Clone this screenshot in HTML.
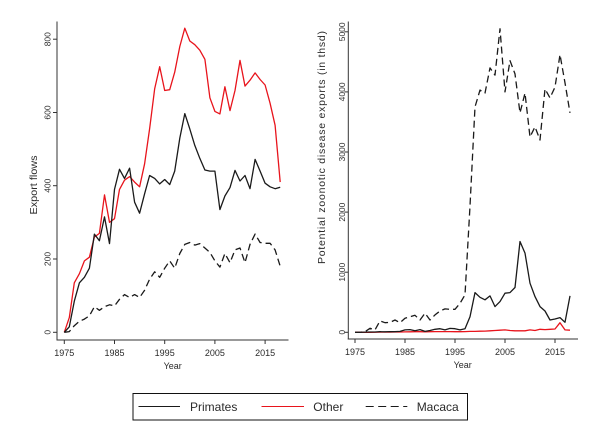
<!DOCTYPE html>
<html>
<head>
<meta charset="utf-8">
<style>
  html, body { margin: 0; padding: 0; background: #ffffff; }
  svg { display: block; }
  text { font-family: "Liberation Sans", Arial, sans-serif; fill: #2a2a2a; }
</style>
</head>
<body>
<svg width="600" height="436" viewBox="0 0 600 436" xmlns="http://www.w3.org/2000/svg">
  <rect x="0" y="0" width="600" height="436" fill="#ffffff"/>

  <!-- ===== LEFT PANEL ===== -->
  <g stroke="#333" stroke-width="1" fill="none">
    <line x1="57" y1="21.5" x2="57" y2="340.5"/>
    <line x1="56.5" y1="340" x2="288.5" y2="340"/>
    <line x1="53" y1="332.3" x2="57" y2="332.3"/>
    <line x1="53" y1="259.0" x2="57" y2="259.0"/>
    <line x1="53" y1="185.7" x2="57" y2="185.7"/>
    <line x1="53" y1="112.5" x2="57" y2="112.5"/>
    <line x1="53" y1="39.2" x2="57" y2="39.2"/>
    <line x1="64.3" y1="340" x2="64.3" y2="344"/>
    <line x1="114.5" y1="340" x2="114.5" y2="344"/>
    <line x1="164.7" y1="340" x2="164.7" y2="344"/>
    <line x1="214.9" y1="340" x2="214.9" y2="344"/>
    <line x1="265.1" y1="340" x2="265.1" y2="344"/>
  </g>
  <g font-size="8.5" text-anchor="middle" style="fill:#333">
    <text x="50.5" y="332.3" transform="rotate(-90 50.5 332.3)">0</text>
    <text x="50.5" y="259.0" transform="rotate(-90 50.5 259.0)">200</text>
    <text x="50.5" y="185.7" transform="rotate(-90 50.5 185.7)">400</text>
    <text x="50.5" y="112.5" transform="rotate(-90 50.5 112.5)">600</text>
    <text x="50.5" y="39.2" transform="rotate(-90 50.5 39.2)">800</text>
  </g>
  <g font-size="9" text-anchor="middle" style="fill:#333">
    <text x="64.3" y="356">1975</text>
    <text x="114.5" y="356">1985</text>
    <text x="164.7" y="356">1995</text>
    <text x="214.9" y="356">2005</text>
    <text x="265.1" y="356">2015</text>
    <text x="172.7" y="369">Year</text>
  </g>
  <text x="37" y="185" font-size="10.5" text-anchor="middle" transform="rotate(-90 37 185)" textLength="59" lengthAdjust="spacingAndGlyphs">Export flows</text>

  <polyline fill="none" stroke="#1a1a1a" stroke-width="1.3" stroke-dasharray="7,4" stroke-linejoin="round"
    points="64.3,332.3 69.3,331.6 74.3,325.7 79.4,321.3 84.4,319.1 89.4,315.8 94.4,306.7 99.4,310.3 104.5,306.7 109.5,304.8 114.5,305.9 119.5,299.3 124.5,294.6 129.6,297.5 134.6,294.6 139.6,297.5 144.6,290.2 149.6,279.2 154.7,271.8 159.7,277.3 164.7,268.2 169.7,260.9 174.7,268.2 179.8,253.5 184.8,244.4 189.8,242.5 194.8,245.1 199.8,243.6 204.9,248.0 209.9,252.4 214.9,260.9 219.9,267.1 224.9,253.5 230.0,262.7 235.0,249.9 240.0,248.0 245.0,262.7 250.0,244.4 255.1,234.1 260.1,242.5 265.1,243.3 270.1,243.3 275.1,249.9 280.2,266.3"/>
  <polyline fill="none" stroke="#e8141c" stroke-width="1.3" stroke-linejoin="round"
    points="64.3,332.3 69.3,317.6 74.3,282.8 79.4,273.7 84.4,260.9 89.4,257.2 94.4,237.0 99.4,233.4 104.5,194.9 109.5,222.4 114.5,218.7 119.5,189.4 124.5,180.2 129.6,176.6 134.6,182.1 139.6,186.8 144.6,163.8 149.6,128.9 154.7,88.6 159.7,66.7 164.7,90.5 169.7,89.7 174.7,72.2 179.8,46.5 184.8,28.2 189.8,41.0 194.8,44.7 199.8,50.2 204.9,59.3 209.9,97.8 214.9,111.4 219.9,113.9 224.9,86.8 230.0,110.6 235.0,90.5 240.0,60.4 245.0,86.1 250.0,80.2 255.1,72.9 260.1,79.5 265.1,85.0 270.1,103.3 275.1,125.3 280.2,182.1"/>
  <polyline fill="none" stroke="#1a1a1a" stroke-width="1.3" stroke-linejoin="round"
    points="64.3,332.3 69.3,326.8 74.3,301.2 79.4,282.8 84.4,277.3 89.4,268.2 94.4,234.1 99.4,240.7 104.5,216.9 109.5,243.6 114.5,189.4 119.5,169.3 124.5,178.4 129.6,168.2 134.6,202.2 139.6,213.2 144.6,193.8 149.6,175.5 154.7,178.4 159.7,183.9 164.7,179.5 169.7,184.6 174.7,171.1 179.8,138.1 184.8,113.6 189.8,128.9 194.8,145.4 199.8,158.3 204.9,170.0 209.9,171.1 214.9,171.1 219.9,209.6 224.9,196.0 230.0,187.6 235.0,170.4 240.0,181.0 245.0,175.5 250.0,188.7 255.1,159.4 260.1,171.1 265.1,183.2 270.1,186.8 275.1,188.7 280.2,187.2"/>

  <!-- ===== RIGHT PANEL ===== -->
  <g stroke="#333" stroke-width="1" fill="none">
    <line x1="348.3" y1="21.5" x2="348.3" y2="339.5"/>
    <line x1="347.8" y1="339" x2="578" y2="339"/>
    <line x1="344.3" y1="332.3" x2="348.3" y2="332.3"/>
    <line x1="344.3" y1="272.2" x2="348.3" y2="272.2"/>
    <line x1="344.3" y1="212.1" x2="348.3" y2="212.1"/>
    <line x1="344.3" y1="152.0" x2="348.3" y2="152.0"/>
    <line x1="344.3" y1="91.9" x2="348.3" y2="91.9"/>
    <line x1="344.3" y1="31.8" x2="348.3" y2="31.8"/>
    <line x1="355" y1="339" x2="355" y2="343"/>
    <line x1="405" y1="339" x2="405" y2="343"/>
    <line x1="455" y1="339" x2="455" y2="343"/>
    <line x1="505" y1="339" x2="505" y2="343"/>
    <line x1="555" y1="339" x2="555" y2="343"/>
  </g>
  <g font-size="8.5" text-anchor="middle" style="fill:#333">
    <text x="345" y="332.3" transform="rotate(-90 345 332.3)">0</text>
    <text x="345" y="272.2" transform="rotate(-90 345 272.2)">1000</text>
    <text x="345" y="212.1" transform="rotate(-90 345 212.1)">2000</text>
    <text x="345" y="152.0" transform="rotate(-90 345 152.0)">3000</text>
    <text x="345" y="91.9" transform="rotate(-90 345 91.9)">4000</text>
    <text x="345" y="31.8" transform="rotate(-90 345 31.8)">5000</text>
  </g>
  <g font-size="9" text-anchor="middle" style="fill:#333">
    <text x="355" y="355">1975</text>
    <text x="405" y="355">1985</text>
    <text x="455" y="355">1995</text>
    <text x="505" y="355">2005</text>
    <text x="555" y="355">2015</text>
    <text x="462.7" y="368">Year</text>
  </g>
  <text x="325" y="147.5" font-size="10.5" text-anchor="middle" transform="rotate(-90 325 147.5)" textLength="233" lengthAdjust="spacing">Potential zoonotic disease exports (in thsd)</text>

  <polyline fill="none" stroke="#1a1a1a" stroke-width="1.3" stroke-dasharray="7,4" stroke-linejoin="round"
    points="355,332.3 360,332.3 365,331.7 370,328.3 375,329.9 380,320.9 385,322.7 390,322.4 395,320.0 400,322.7 405,318.3 410,316.7 415,315.3 420,320.0 425,313.2 430,320.0 435,314.9 440,311.0 445,308.9 450,309.3 455,309.3 460,303.3 465,294.9 470,206.1 475,106.9 480,90.1 485,93.1 490,67.9 495,75.1 500,28.8 505,91.9 510,60.6 515,73.9 520,112.9 525,93.1 530,137.0 535,126.8 540,140.0 545,88.9 550,97.9 555,87.1 560,54.6 565,82.9 570,112.9"/>
  <polyline fill="none" stroke="#e8141c" stroke-width="1.3" stroke-linejoin="round"
    points="355,332.3 360,332.3 365,332.3 370,332.3 375,332.2 380,332.1 385,332.1 390,332.1 395,332.0 400,332.0 405,331.9 410,331.8 415,331.7 420,331.7 425,331.8 430,331.7 435,331.6 440,331.6 445,331.6 450,331.6 455,331.7 460,331.7 465,331.6 470,331.4 475,331.4 480,331.2 485,331.1 490,330.8 495,330.5 500,330.2 505,329.9 510,330.5 515,330.8 520,330.8 525,330.8 530,329.9 535,330.5 540,329.3 545,329.6 550,329.3 555,329.0 560,322.7 565,329.9 570,330.2"/>
  <polyline fill="none" stroke="#1a1a1a" stroke-width="1.3" stroke-linejoin="round"
    points="355,332.3 360,332.3 365,332.1 370,332.0 375,332.0 380,331.7 385,331.8 390,331.6 395,331.7 400,331.4 405,329.9 410,329.6 415,330.8 420,329.6 425,331.4 430,330.5 435,329.3 440,328.7 445,329.9 450,328.4 455,328.7 460,329.9 465,328.7 470,316.7 475,292.6 480,297.3 485,299.8 490,295.9 495,306.6 500,301.6 505,293.2 510,292.6 515,287.5 520,241.5 525,253.1 530,283.2 535,296.6 540,306.6 545,311.0 550,320.0 555,319.0 560,317.6 565,322.3 570,295.9"/>

  <!-- ===== LEGEND ===== -->
  <rect x="133" y="393.5" width="334.5" height="26.5" fill="#ffffff" stroke="#111" stroke-width="1"/>
  <line x1="138.5" y1="406.5" x2="180" y2="406.5" stroke="#1a1a1a" stroke-width="1.1"/>
  <text x="190" y="411" font-size="12">Primates</text>
  <line x1="261.5" y1="406.5" x2="304" y2="406.5" stroke="#e8141c" stroke-width="1.1"/>
  <text x="313.3" y="411" font-size="12">Other</text>
  <line x1="365.7" y1="406.5" x2="407.3" y2="406.5" stroke="#1a1a1a" stroke-width="1.1" stroke-dasharray="8,4.5"/>
  <text x="416.7" y="411" font-size="12">Macaca</text>
</svg>
</body>
</html>
